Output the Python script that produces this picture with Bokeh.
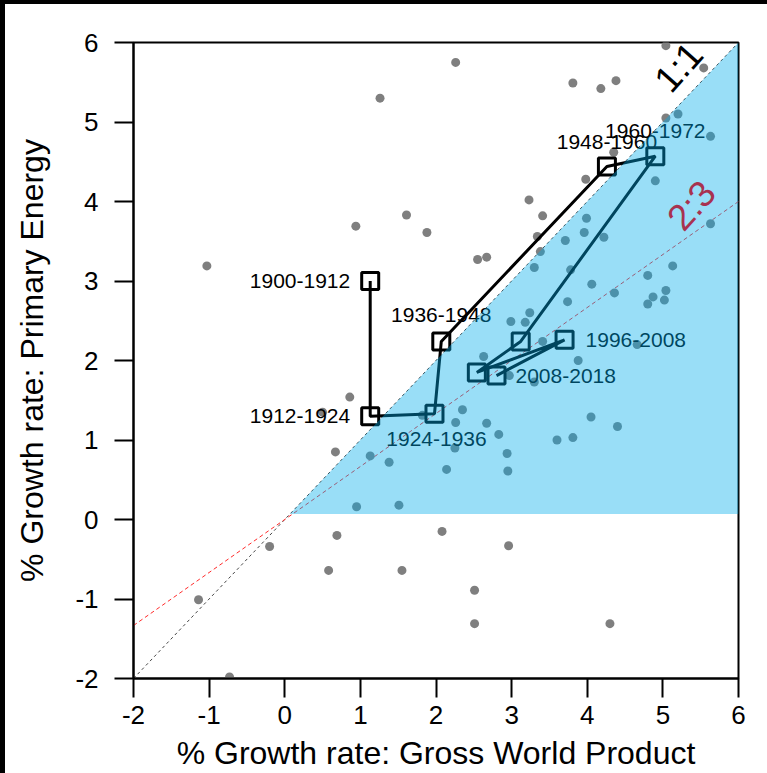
from bokeh.plotting import figure
from bokeh.models import Range1d, FixedTicker
from bokeh.core.properties import value
from bokeh.embed import file_html
from bokeh.resources import INLINE

# ---------------- data ----------------
# annual growth rates (GWP %, primary energy %)
bg_x = [1.26, 0.94, 1.61, 1.88, -1.03, 2.26, 5.04, 5.54, 3.81, 4.18, 4.38, 5.20, 5.04, 5.63,
        4.35, 3.98, 4.90, 3.23, 3.41, 3.99, 3.34, 3.96, 3.71, 4.22, 5.63, 3.38, 2.55, 2.67,
        3.30, 3.78, 4.80, 5.13, 4.06, 4.36, 3.74, 4.87, 5.04, 5.02, 4.80, 3.24, 2.99, 3.18,
        3.41, 4.66, 2.63, 3.88, 2.97, 3.30, 2.35, 2.26, 2.67, 4.05, 4.40, 2.83, 3.60, 3.81,
        2.25, 2.94, 2.14, 2.95, 0.86, 0.50, 0.67, 1.13, 1.38, 0.95, 1.51, 1.82, 2.08, 0.69,
        -0.20, 0.58, 1.55, -1.14, -0.73, 2.96, 2.51, 2.51, 4.30]
bg_y = [5.30, 3.69, 3.83, 3.61, 3.19, 5.75, 5.96, 5.68, 5.49, 5.42, 5.52, 5.10, 5.05, 4.82,
        4.62, 4.28, 4.26, 4.02, 3.82, 3.79, 3.56, 3.61, 3.51, 3.55, 3.72, 3.37, 3.27, 3.30,
        3.17, 3.14, 3.07, 3.19, 2.96, 2.85, 2.74, 2.80, 2.88, 2.76, 2.71, 2.60, 2.49, 2.48,
        2.24, 2.20, 2.05, 2.00, 1.81, 1.73, 1.38, 1.22, 1.21, 1.29, 1.17, 1.07, 1.00, 1.03,
        0.90, 0.83, 0.63, 0.61, 1.54, 1.35, 0.85, 0.80, 0.72, 0.16, 0.18, 1.31, -0.15, -0.20,
        -0.34, -0.64, -0.64, -1.01, -1.98, -0.33, -0.89, -1.31, -1.31]

# 12-year period averages
periods = ["1900-1912", "1912-1924", "1924-1936", "1936-1948", "1948-1960",
           "1960-1972", "1972-1984", "1984-1996", "1996-2008", "2008-2018"]
period_gwp = [1.13, 1.13, 1.98, 2.07, 4.26, 4.90, 3.12, 2.54, 3.70, 2.80]
period_energy = [3.00, 1.30, 1.33, 2.24, 4.44, 4.57, 2.24, 1.85, 2.26, 1.81]

# which periods are labelled, and where the label sits (pixel offsets / anchor)
label_style = {
    "1900-1912": (-20, 0, "center_right"),
    "1912-1924": (-20, 0, "center_right"),
    "1924-1936": (2, 25, "center"),
    "1936-1948": (0, -26, "center"),
    "1948-1960": (0, -25, "center"),
    "1960-1972": (0, -25, "center"),
    "1996-2008": (21, 0, "center_left"),
    "2008-2018": (19, 0, "center_left"),
}

ticks = [-2, -1, 0, 1, 2, 3, 4, 5, 6]
tick_labels = ["-2", "-1", "0", "1", "2", "3", "4", "5", "6"]
axis_lo, axis_hi = -2, 6
ratios = [1.0, 2.0 / 3.0]          # 1:1 and 2:3 reference lines
ratio_names = ["1:1", "2:3"]
ratio_label_x = [5.21, 5.38]
ratio_label_y = [5.69, 3.95]
shade_start = 0.07                  # shaded region: 0 < energy growth < GWP growth

FONT = "Liberation Sans"

p = figure(width=759, height=773, x_range=Range1d(axis_lo, axis_hi),
           y_range=Range1d(axis_lo, axis_hi), output_backend="svg",
           toolbar_location=None, min_border_left=133, min_border_right=21,
           min_border_top=42, min_border_bottom=95)
p.grid.visible = False
p.outline_line_color = "black"
p.outline_line_width = 2
p.background_fill_color = "white"
p.border_fill_color = "white"

p.xaxis.axis_label = "% Growth rate: Gross World Product"
p.yaxis.axis_label = "% Growth rate: Primary Energy"
for ax in (p.xaxis[0], p.yaxis[0]):
    ax.ticker = FixedTicker(ticks=ticks)
    ax.major_label_overrides = dict(zip(ticks, tick_labels))
    ax.major_tick_out = 19
    ax.major_tick_in = 0
    ax.minor_tick_out = 0
    ax.minor_tick_in = 0
    ax.axis_line_width = 2
    ax.major_tick_line_width = 2
    ax.major_label_text_font = FONT
    ax.major_label_text_font_size = "26px"
    ax.major_label_text_color = "black"
    ax.axis_label_text_font = FONT
    ax.axis_label_text_font_size = "32px"
    ax.axis_label_text_font_style = "normal"
    ax.axis_label_text_color = "black"
p.xaxis.major_label_standoff = 8
p.xaxis.axis_label_standoff = 8
p.yaxis.major_label_standoff = 16
p.yaxis.major_label_orientation = "horizontal"
p.yaxis.axis_label_standoff = 22

# reference lines
ref_x = [axis_lo, axis_hi]
p.line(ref_x, [ratios[0] * v for v in ref_x], line_color="#444444",
       line_width=1, line_dash="3 3")
p.line(ref_x, [ratios[1] * v for v in ref_x], line_color="#ff2a2a",
       line_width=1, line_dash="4 3")

# annual points
p.scatter(bg_x, bg_y, size=9, fill_color="#7f7f7f", line_color=None)

# period path
p.line(period_gwp, period_energy, line_color="black", line_width=3)
p.scatter(period_gwp, period_energy, marker="square", size=17, fill_color=None,
          line_color="black", line_width=3)

# period labels
for name, gx, ey in zip(periods, period_gwp, period_energy):
    if name not in label_style:
        continue
    dx, dy, anchor = label_style[name]
    p.text([gx], [ey], text=[name], x_offset=dx, y_offset=dy, anchor=anchor,
           text_font=value(FONT), text_font_size="21px", text_color="black")

# shaded region where energy grows slower than GWP
shade_x = [shade_start, axis_hi, axis_hi, shade_start]
shade_y = [shade_start, axis_hi, shade_start, shade_start]
p.patch(shade_x, shade_y, fill_color="#00ACEB", fill_alpha=0.4, line_color=None)

# ratio labels
ratio_colors = ["black", "#A8324F"]
for nm, lx, ly, col in zip(ratio_names, ratio_label_x, ratio_label_y, ratio_colors):
    p.text([lx], [ly], text=[nm], angle=0.84, anchor="center",
           text_font=value(FONT), text_font_size="37px", text_color=col)

TEMPLATE = """
{% block preamble %}<style>
body::before { content: ""; position: fixed; left: 0; top: 0; width: 100%; height: 4px; background: #000; z-index: 10; }
body::after { content: ""; position: fixed; left: 0; top: 0; width: 5px; height: 100%; background: #000; z-index: 10; }
</style>{% endblock %}
"""

open("out.html", "w").write(file_html(p, INLINE, template=TEMPLATE))
